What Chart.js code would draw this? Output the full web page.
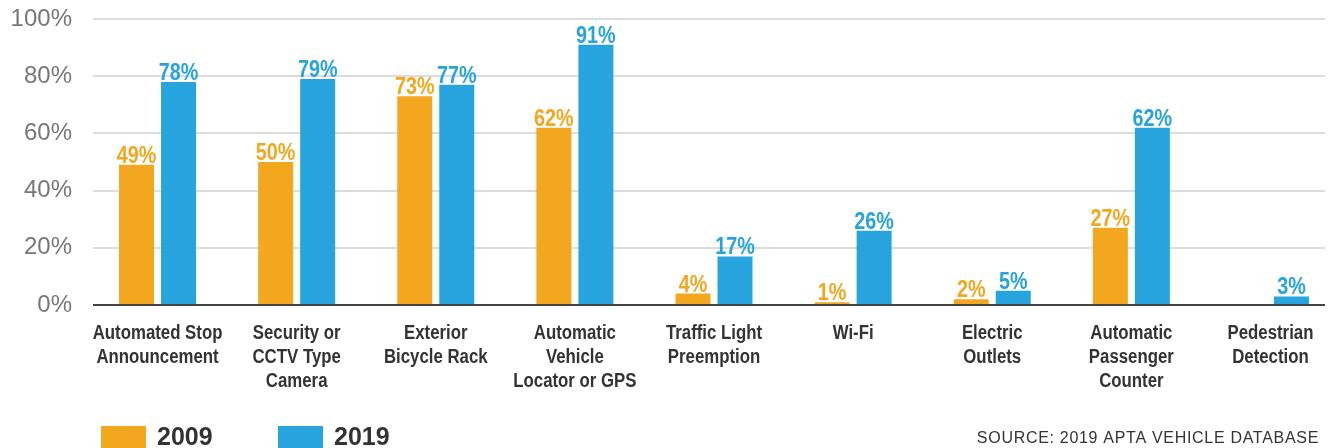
<!DOCTYPE html>
<html>
<head>
<meta charset="utf-8">
<script src="https://cdn.jsdelivr.net/npm/chart.js@4"></script>
<style>
  html, body { margin: 0; padding: 0; background: #fff; overflow: hidden; }
  canvas { display: block; }
</style>
</head>
<body>
<canvas id="features" width="1333" height="448"></canvas>
<script>
const categories = [
  ['Automated Stop', 'Announcement'],
  ['Security or', 'CCTV Type', 'Camera'],
  ['Exterior', 'Bicycle Rack'],
  ['Automatic', 'Vehicle', 'Locator or GPS'],
  ['Traffic Light', 'Preemption'],
  ['Wi-Fi'],
  ['Electric', 'Outlets'],
  ['Automatic', 'Passenger', 'Counter'],
  ['Pedestrian', 'Detection']
];
const values2009 = [49, 50, 73, 62, 4, 1, 2, 27, null];
const values2019 = [78, 79, 77, 91, 17, 26, 5, 62, 3];
const yTicks = [0, 20, 40, 60, 80, 100];
const sourceNote = 'SOURCE: 2019 APTA VEHICLE DATABASE';

const ORANGE = '#F2A71F';
const BLUE = '#27A3DD';
const SANS = "'Liberation Sans', Arial, Helvetica, sans-serif";

function toPoints(values) {
  return values.map((v, i) => ({ x: i, y: v }));
}

// no condensed face available, so squeeze a bold sans horizontally
function fillNarrow(ctx, text, x, y, sx) {
  ctx.save();
  ctx.translate(x, y);
  ctx.scale(sx, 1);
  ctx.fillText(text, 0, 0);
  ctx.restore();
}

// percentage labels sitting on top of each bar
const barLabels = {
  id: 'barLabels',
  afterDatasetsDraw(chart) {
    const ctx = chart.ctx;
    ctx.save();
    ctx.font = `bold 23px ${SANS}`;
    ctx.textAlign = 'center';
    ctx.textBaseline = 'alphabetic';
    chart.data.datasets.forEach((ds, di) => {
      const meta = chart.getDatasetMeta(di);
      meta.data.forEach((bar, i) => {
        const v = ds.data[i].y;
        if (v === null) return;
        ctx.fillStyle = ds.backgroundColor;
        fillNarrow(ctx, v + '%', bar.x, bar.y - 2, 0.86);
      });
    });
    ctx.restore();
  }
};

// multi-line category names under the x axis
const categoryLabels = {
  id: 'categoryLabels',
  afterDraw(chart) {
    const ctx = chart.ctx;
    const xs = chart.scales.x;
    const base = chart.chartArea.bottom + 34;
    ctx.save();
    ctx.font = `bold 20px ${SANS}`;
    ctx.fillStyle = '#333';
    ctx.textAlign = 'center';
    ctx.textBaseline = 'alphabetic';
    categories.forEach((lines, i) => {
      const x = xs.getPixelForValue(i);
      lines.forEach((line, k) => fillNarrow(ctx, line, x, base + k * 24, 0.84));
    });
    ctx.restore();
  }
};

// legend bottom-left and source note bottom-right
const footer = {
  id: 'footer',
  afterDraw(chart) {
    const ctx = chart.ctx;
    ctx.save();
    const spots = [101, 278];
    chart.data.datasets.forEach((ds, di) => {
      const x = spots[di];
      ctx.fillStyle = ds.backgroundColor;
      ctx.fillRect(x, 426, 45, 24);
      ctx.fillStyle = '#333';
      ctx.font = `bold 25px ${SANS}`;
      ctx.textAlign = 'left';
      ctx.textBaseline = 'alphabetic';
      ctx.fillText(ds.label, x + 56, 445);
    });
    ctx.font = `16px ${SANS}`;
    ctx.fillStyle = '#333';
    ctx.textAlign = 'right';
    ctx.letterSpacing = '0.7px';
    ctx.fillText(sourceNote, 1319, 443);
    ctx.restore();
  }
};

new Chart(document.getElementById('features'), {
  type: 'bar',
  data: {
    datasets: [
      { label: '2009', data: toPoints(values2009), backgroundColor: ORANGE },
      { label: '2019', data: toPoints(values2019), backgroundColor: BLUE }
    ]
  },
  options: {
    responsive: false,
    animation: false,
    categoryPercentage: 0.604,
    barPercentage: 0.833,
    layout: { padding: { top: 19, right: 8, left: 0, bottom: 0 } },
    plugins: {
      legend: { display: false },
      tooltip: { enabled: false }
    },
    scales: {
      x: {
        type: 'linear',
        offset: false,
        min: -0.464,
        max: 8.392,
        grid: { display: false },
        border: { display: false },
        ticks: { display: false },
        afterBuildTicks: scale => {
          scale.ticks = categories.map((c, i) => ({ value: i }));
        },
        afterFit: scale => { scale.height = 143; }
      },
      y: {
        min: 0,
        max: 100,
        border: { display: false },
        afterBuildTicks: scale => {
          scale.ticks = yTicks.map(v => ({ value: v }));
        },
        afterFit: scale => {
          scale.width = 93;
          scale.paddingTop = 0;
          scale.paddingBottom = 0;
        },
        grid: {
          drawTicks: false,
          lineWidth: 2,
          color: c => c.tick && c.tick.value === 0 ? '#444' : '#dcdcdc'
        },
        ticks: {
          padding: 21,
          color: '#777',
          font: { family: SANS, size: 24 },
          callback: v => v + '%'
        }
      }
    }
  },
  plugins: [barLabels, categoryLabels, footer]
});
</script>
</body>
</html>
